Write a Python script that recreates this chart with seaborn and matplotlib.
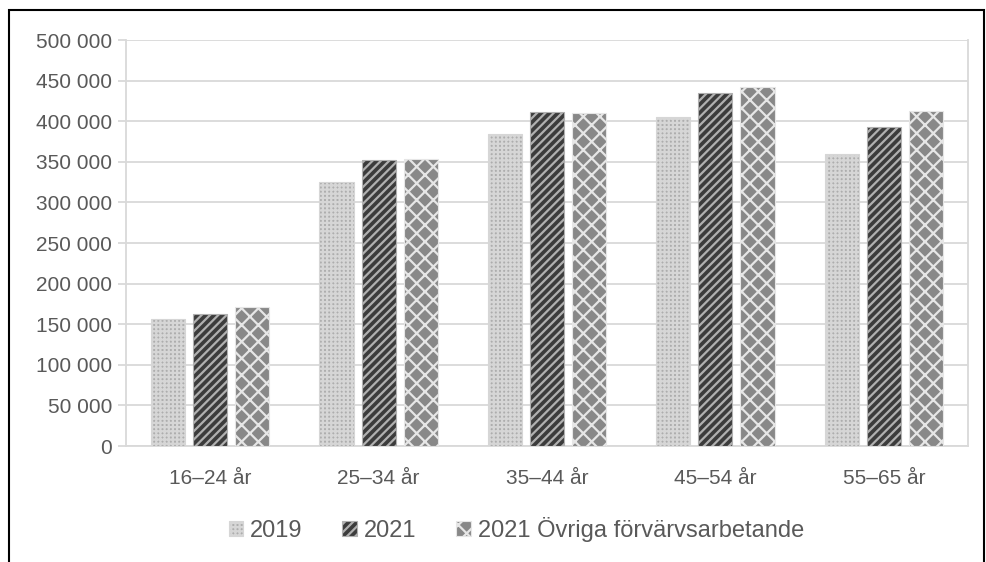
import numpy as np
import pandas as pd
import matplotlib
matplotlib.use("Agg")
import matplotlib.pyplot as plt
import matplotlib.patches as mpatches
import seaborn as sns

# Data
age_groups = ["16–24 år", "25–34 år", "35–44 år", "45–54 år", "55–65 år"]
series = ["2019", "2021", "2021 Övriga förvärvsarbetande"]
values_2019 = [156000, 325000, 384000, 405000, 360000]
values_2021 = [162000, 352000, 411000, 435000, 393000]
values_other = [171000, 354000, 410000, 442000, 413000]

y_ticks = list(range(0, 500001, 50000))

df = pd.DataFrame({
    "age": age_groups * 3,
    "serie": [series[0]] * 5 + [series[1]] * 5 + [series[2]] * 5,
    "value": values_2019 + values_2021 + values_other,
})

sns.set_style("white")
plt.rcParams["font.family"] = ["Liberation Sans", "DejaVu Sans"]
plt.rcParams["hatch.linewidth"] = 1.6

text_color = "#595959"
grid_color = "#d9d9d9"
faces = ["#adadad", "#3c3c3c", "#888888"]
hatch_colors = ["#d6d6d6", "#b0b0b0", "#e6e6e6"]
hatches = ["++++", "////", "xx"]

fig = plt.figure(figsize=(9.87, 5.62), dpi=100)
ax = fig.add_axes([0.1277, 0.2064, 0.8531, 0.7224])

sns.barplot(data=df, x="age", y="value", hue="serie", order=age_groups,
            hue_order=series, palette=faces, width=0.75, gap=0.19,
            legend=False, ax=ax, zorder=3)

for cont, h, hc in zip(ax.containers, hatches, hatch_colors):
    for p in cont:
        p.set_hatch(h)
        p.set_edgecolor(hc)
        p.set_linewidth(0.8)

ax.set_ylim(0, 500000)
ax.set_yticks(y_ticks)
ax.set_yticklabels([f"{v:,}".replace(",", " ") for v in y_ticks])
ax.yaxis.grid(True, color=grid_color, linewidth=1.3, zorder=0)
ax.set_axisbelow(True)
ax.set_xlabel("")
ax.set_ylabel("")

for s in ax.spines.values():
    s.set_color(grid_color)
    s.set_linewidth(1.3)
ax.spines["top"].set_visible(False)

ax.tick_params(axis="y", left=True, length=6, color=grid_color, width=1.3,
               labelsize=15, labelcolor=text_color, pad=4)
ax.tick_params(axis="x", bottom=False, labelsize=15, labelcolor=text_color, pad=13)

handles = []
for f, h, hc in zip(faces, hatches, hatch_colors):
    handles.append(mpatches.Patch(facecolor=f, hatch=h, edgecolor=hc, linewidth=0.8))
fig.legend(handles, series, loc="center", bbox_to_anchor=(0.523, 0.058), ncol=3,
           frameon=False, fontsize=17, labelcolor=text_color, handlelength=0.6,
           handleheight=0.6, handletextpad=0.3, columnspacing=1.7)

# outer frame
fig.add_artist(mpatches.Rectangle((0.009, -0.05), 0.988, 1.032, transform=fig.transFigure,
                                  fill=False, edgecolor="black", linewidth=1.5))

fig.savefig("out.png", dpi=100)
